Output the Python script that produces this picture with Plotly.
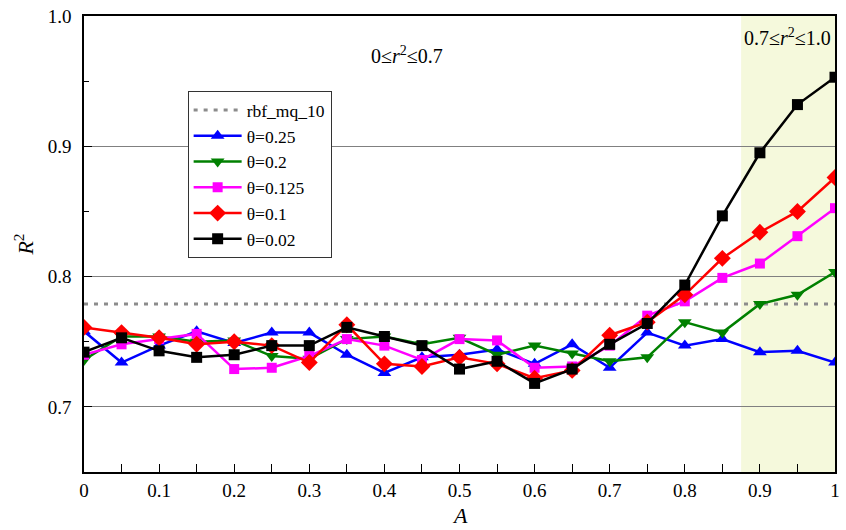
import plotly.graph_objects as go

A = [0, 0.05, 0.1, 0.15, 0.2, 0.25, 0.3, 0.35, 0.4, 0.45, 0.5,
     0.55, 0.6, 0.65, 0.7, 0.75, 0.8, 0.85, 0.9, 0.95, 1.0]

theta_025 = [0.758, 0.734, 0.747, 0.758, 0.749, 0.757, 0.757, 0.740, 0.726, 0.738, 0.740,
             0.744, 0.733, 0.748, 0.730, 0.757, 0.747, 0.752, 0.742, 0.743, 0.734]
theta_02 = [0.736, 0.754, 0.754, 0.750, 0.751, 0.739, 0.737, 0.752, 0.754, 0.748, 0.753,
            0.740, 0.747, 0.741, 0.735, 0.738, 0.765, 0.757, 0.779, 0.786, 0.8035]
theta_0125 = [0.740, 0.748, 0.752, 0.756, 0.729, 0.730, 0.739, 0.752, 0.747, 0.736, 0.752,
              0.751, 0.730, 0.731, 0.747, 0.770, 0.781, 0.799, 0.810, 0.831, 0.8525]
theta_01 = [0.761, 0.757, 0.753, 0.748, 0.750, 0.747, 0.734, 0.763, 0.733, 0.731, 0.738,
            0.733, 0.722, 0.728, 0.755, 0.765, 0.786, 0.814, 0.834, 0.850, 0.876]
theta_002 = [0.742, 0.753, 0.743, 0.738, 0.740, 0.747, 0.747, 0.761, 0.754, 0.747, 0.729,
             0.735, 0.718, 0.729, 0.748, 0.764, 0.7935, 0.8466, 0.895, 0.932, 0.953]
rbf_mq_10 = 0.779

x_tickvals = A[0::2]
x_ticktext = ["0", "0.1", "0.2", "0.3", "0.4", "0.5", "0.6", "0.7", "0.8", "0.9", "1"]
x_minorvals = A[1::2]
y_tickvals = [0.7, 0.8, 0.9, 1.0]
y_ticktext = ["0.7", "0.8", "0.9", "1.0"]
y_minorvals = [0.75, 0.85, 0.95]

FONT = "Liberation Serif"

fig = go.Figure()

fig.add_trace(go.Scatter(
    x=[A[0], A[-1]], y=[rbf_mq_10, rbf_mq_10], mode="lines", name="rbf_mq_10",
    line=dict(color="#8c8c8c", width=3, dash="4px,6px")))

series = [
    ("θ=0.25", theta_025, "#0000ff", "triangle-up", 12),
    ("θ=0.2", theta_02, "#008000", "triangle-down", 12),
    ("θ=0.125", theta_0125, "#ff00ff", "square", 10),
    ("θ=0.1", theta_01, "#ff0000", "diamond", 13),
    ("θ=0.02", theta_002, "#000000", "square", 11),
]
for name, ys, col, sym, sz in series:
    fig.add_trace(go.Scatter(
        x=A, y=ys, mode="lines+markers", name=name,
        line=dict(color=col, width=2.5),
        marker=dict(color=col, symbol=sym, size=sz, line=dict(width=0))))

fig.add_shape(type="rect", xref="x", yref="paper", x0=0.875, x1=1.0, y0=0, y1=1,
              fillcolor="#f5f9dc", line=dict(width=0), layer="below")

fig.add_annotation(x=0.43, y=0.97, xref="x", yref="y",
                   text="0≤<i>r</i><sup>2</sup>≤0.7", showarrow=False,
                   font=dict(family=FONT, size=20, color="black"))
fig.add_annotation(x=0.937, y=0.984, xref="x", yref="y",
                   text="0.7≤<i>r</i><sup>2</sup>≤1.0", showarrow=False,
                   font=dict(family=FONT, size=20, color="black"))
fig.add_annotation(x=0.5, y=-0.096, xref="paper", yref="paper",
                   xanchor="center", yanchor="middle",
                   text="<i>A</i>", showarrow=False,
                   font=dict(family=FONT, size=22, color="black"))

fig.update_layout(
    width=846, height=530,
    margin=dict(l=84, r=11, t=16, b=58),
    plot_bgcolor="white", paper_bgcolor="white",
    font=dict(family=FONT, size=19, color="black"),
    showlegend=True,
    legend=dict(x=0.138, y=0.835, xanchor="left", yanchor="top",
                bgcolor="white", bordercolor="#333333", borderwidth=1,
                font=dict(family=FONT, size=17.5), tracegroupgap=0,
                itemwidth=48),
    xaxis=dict(range=[0, 1], tickvals=x_tickvals, ticktext=x_ticktext,
               ticks="inside", ticklen=8, tickcolor="black", tickwidth=1,
               minor=dict(tickvals=x_minorvals, ticks="inside", ticklen=8,
                          tickcolor="black", tickwidth=1, showgrid=False),
               showline=True, linecolor="black", linewidth=1.5, mirror=True,
               showgrid=False, zeroline=False, ticklabelstandoff=0,
               automargin=False),
    yaxis=dict(range=[0.65, 1.0], tickvals=y_tickvals, ticktext=y_ticktext,
               ticks="inside", ticklen=8, tickcolor="black", tickwidth=1,
               showline=True, linecolor="black", linewidth=1.5, mirror=True,
               showgrid=True, gridcolor="#808080", gridwidth=1, zeroline=False,
               minor=dict(tickvals=y_minorvals, ticks="inside", ticklen=5,
                          tickcolor="black", showgrid=False),
               ticklabelstandoff=7, automargin=False,
               title=dict(text="<i>R</i><sup>2</sup>", font=dict(family=FONT, size=22), standoff=8)),
)

fig.write_html("out.html")
